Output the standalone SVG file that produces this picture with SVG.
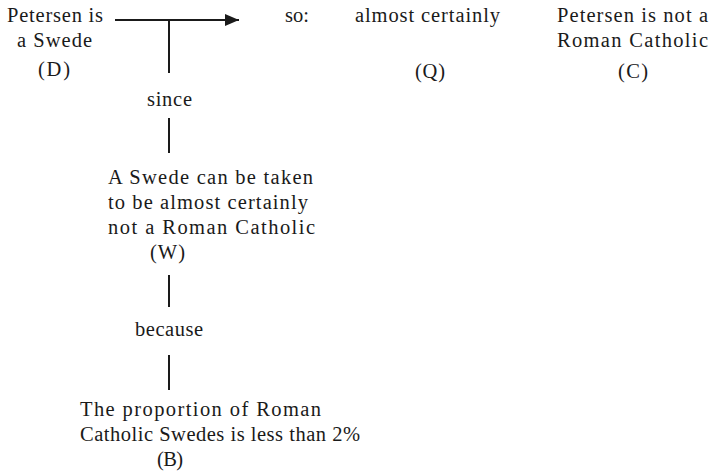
<svg xmlns="http://www.w3.org/2000/svg" width="713" height="473" viewBox="0 0 713 473">
  <style>
    text { font-family: "Liberation Serif", "Times New Roman", serif; font-size: 20.5px; fill: #1a1a1a; }
    .conn { stroke: #1a1a1a; stroke-width: 2; fill: none; }
  </style>
  <defs>
    <marker id="arrow" markerWidth="14" markerHeight="12" refX="14" refY="6" orient="auto" markerUnits="userSpaceOnUse">
      <path d="M0,0 L14,6 L0,12 Z" fill="#1a1a1a"/>
    </marker>
  </defs>
  <rect width="713" height="473" fill="#ffffff"/>

  <!-- connectors -->
  <g id="connectors">
    <line class="conn" x1="115" y1="20" x2="239" y2="20" marker-end="url(#arrow)"/>
    <line class="conn" x1="169" y1="20" x2="169" y2="73"/>
    <line class="conn" x1="169" y1="118" x2="169" y2="153"/>
    <line class="conn" x1="169" y1="275" x2="169" y2="307"/>
    <line class="conn" x1="169" y1="355" x2="169" y2="390"/>
  </g>

  <!-- datum -->
  <g id="node-D">
    <text x="7" y="22" textLength="96" lengthAdjust="spacing">Petersen is</text>
    <text x="17" y="47" textLength="75" lengthAdjust="spacing">a Swede</text>
    <text x="38" y="76" textLength="32" lengthAdjust="spacing">(D)</text>
  </g>

  <!-- qualifier -->
  <g id="node-Q">
    <text x="285" y="22" textLength="24" lengthAdjust="spacing">so:</text>
    <text x="355" y="22" textLength="145" lengthAdjust="spacing">almost certainly</text>
    <text x="415" y="78" textLength="30" lengthAdjust="spacing">(Q)</text>
  </g>

  <!-- claim -->
  <g id="node-C">
    <text x="557" y="22" textLength="151" lengthAdjust="spacing">Petersen is not a</text>
    <text x="557" y="47" textLength="151" lengthAdjust="spacing">Roman Catholic</text>
    <text x="618" y="78" textLength="30" lengthAdjust="spacing">(C)</text>
  </g>

  <g id="label-since">
    <text x="147" y="106" textLength="45" lengthAdjust="spacing">since</text>
  </g>

  <!-- warrant -->
  <g id="node-W">
    <text x="108" y="184" textLength="205" lengthAdjust="spacing">A Swede can be taken</text>
    <text x="108" y="209" textLength="200" lengthAdjust="spacing">to be almost certainly</text>
    <text x="108" y="234" textLength="207" lengthAdjust="spacing">not a Roman Catholic</text>
    <text x="150" y="259" textLength="35" lengthAdjust="spacing">(W)</text>
  </g>

  <g id="label-because">
    <text x="135" y="336" textLength="68" lengthAdjust="spacing">because</text>
  </g>

  <!-- backing -->
  <g id="node-B">
    <text x="80" y="416" textLength="241" lengthAdjust="spacing">The proportion of Roman</text>
    <text x="80" y="441" textLength="280" lengthAdjust="spacing">Catholic Swedes is less than 2%</text>
    <text x="157" y="466" textLength="26" lengthAdjust="spacing">(B)</text>
  </g>
</svg>
